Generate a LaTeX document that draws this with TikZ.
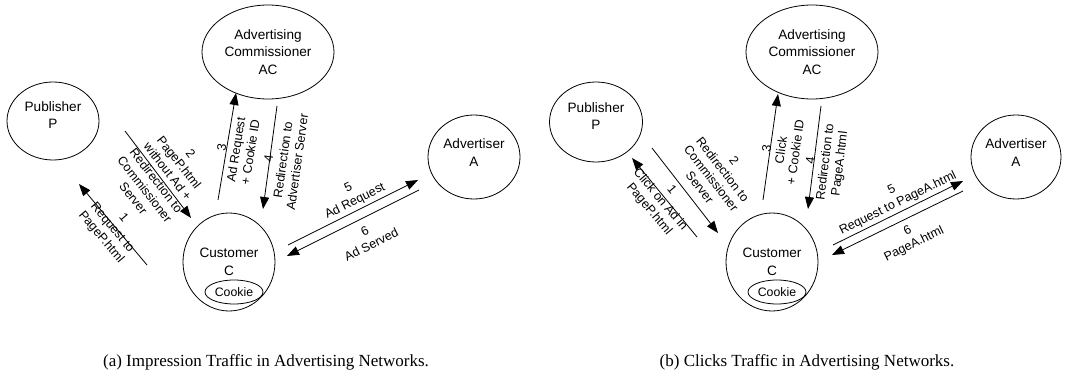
\documentclass[tikz,border=0pt]{standalone}
\usepackage{fontspec}
\setmainfont{Liberation Serif}
\newfontfamily\diagfont{Liberation Sans}
\usetikzlibrary{shapes.geometric,arrows.meta}
\begin{document}
\begin{tikzpicture}[x=1pt,y=-1pt,
  party/.style={ellipse,draw,line width=0.8pt,inner sep=0pt,align=center,
    font=\diagfont\fontsize{13.6}{17.5}\selectfont},
  cookiebox/.style={ellipse,draw,line width=0.8pt,inner sep=0pt,
    font=\diagfont\fontsize{12.3}{14}\selectfont},
  msg/.style={draw,line width=0.8pt,-{Triangle[length=12pt,width=9pt]}},
  lbl/.style={align=center,inner sep=0pt,font=\diagfont\fontsize{12.5}{14.5}\selectfont},
  captext/.style={inner sep=0pt,font=\fontsize{17}{20}\selectfont}]
\useasboundingbox (0,0) rectangle (1069,385);

% ---------- (a) impression traffic ----------
\node[party,minimum width=92pt,minimum height=78pt] (P1) at (53,121) {Publisher\\P\\[-5.5pt]};
\node[party,minimum width=132pt,minimum height=94pt] (AC1) at (268,52) {Advertising\\Commissioner\\AC};
\node[party,minimum width=92pt,minimum height=84pt] (A1) at (474,157) {Advertiser\\A\\[-8.5pt]};
\node[party,minimum width=92pt,minimum height=98pt] (C1) at (229,262) {Customer\\C};
\node[cookiebox,minimum width=58pt,minimum height=24pt] (K1) at (234,292) {Cookie};

\coordinate (a1s) at (147,265); \coordinate (a1e) at (79,184);
\coordinate (a2s) at (125,131); \coordinate (a2e) at (191,218);
\coordinate (a3s) at (218,200); \coordinate (a3e) at (236,93);
\coordinate (a4s) at (277,106); \coordinate (a4e) at (263,209);
\coordinate (a5s) at (288,245); \coordinate (a5e) at (418,180);
\coordinate (a6s) at (419,190); \coordinate (a6e) at (287,256);
\foreach \i in {1,...,6} \draw[msg] (a\i s) -- (a\i e);

\node[lbl,rotate=-50] (la1) at (112,228) {1\\Request to\\PageP.html};
\node[lbl,rotate=-52] (la2) at (162,176) {2\\PageP.html\\without Ad +\\Redirection to\\Commissioner\\Server};
\node[lbl,rotate=81] (la3) at (236,150) {3\\Ad Request\\+ Cookie ID};
\node[lbl,rotate=82] (la4) at (283,160) {4\\Redirection to\\Advertiser Server};
\node[lbl,rotate=26.6] (la5) at (352,195) {5\\Ad Request};
\node[lbl,rotate=26.6] (la6) at (368,238) {6\\Ad Served};

\node[captext] (capa) at (266,362) {(a) Impression Traffic in Advertising Networks.};

% ---------- (b) clicks traffic ----------
\node[party,minimum width=93pt,minimum height=80pt] (P2) at (596,122) {Publisher\\P\\[-5.5pt]};
\node[party,minimum width=132pt,minimum height=94pt] (AC2) at (812,52) {Advertising\\Commissioner\\AC};
\node[party,minimum width=90pt,minimum height=84pt] (A2) at (1016,157) {Advertiser\\A\\[-8.5pt]};
\node[party,minimum width=92pt,minimum height=98pt] (C2) at (772,262) {Customer\\C};
\node[cookiebox,minimum width=58pt,minimum height=24pt] (K2) at (777,292) {Cookie};

\coordinate (b1s) at (697,237); \coordinate (b1e) at (632,158);
\coordinate (b2s) at (652,148); \coordinate (b2e) at (718,233);
\coordinate (b3s) at (763,200); \coordinate (b3e) at (778,94);
\coordinate (b4s) at (821,106); \coordinate (b4e) at (808,209);
\coordinate (b5s) at (833,245); \coordinate (b5e) at (963,181);
\coordinate (b6s) at (963,191); \coordinate (b6e) at (832,255);
\foreach \i in {1,...,6} \draw[msg] (b\i s) -- (b\i e);

\node[lbl,rotate=-50] (lb1) at (660,200) {1\\Click on Ad in\\PageP.html};
\node[lbl,rotate=-52] (lb2) at (717,174) {2\\Redirection to\\Commissioner\\Server};
\node[lbl,rotate=82] (lb3) at (781,150) {3\\Click\\+ Cookie ID};
\node[lbl,rotate=83] (lb4) at (826,162) {4\\Redirection to\\PageA.html};
\node[lbl,rotate=26.2] (lb5) at (895,197) {5\\Request to PageA.html};
\node[lbl,rotate=26.2] (lb6) at (911,238) {6\\PageA.html};

\node[captext] (capb) at (807,362) {(b) Clicks Traffic in Advertising Networks.};
\end{tikzpicture}
\end{document}
